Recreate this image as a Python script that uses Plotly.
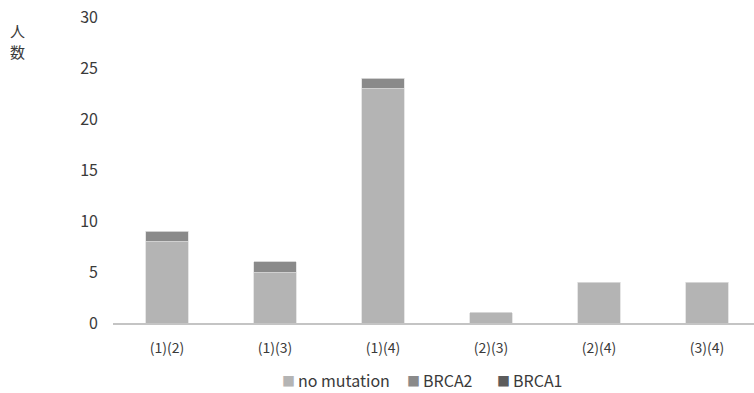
import plotly.graph_objects as go

# Pair categories and counts per mutation status
categories = ["(1)(2)", "(1)(3)", "(1)(4)", "(2)(3)", "(2)(4)", "(3)(4)"]
no_mutation = [8, 5, 23, 1, 4, 4]
brca2 = [1, 1, 1, 0, 0, 0]
brca1 = [0, 0, 0, 0, 0, 0]
y_ticks = [0, 5, 10, 15, 20, 25, 30]

FONT = "Noto Sans CJK JP, Noto Sans, sans-serif"
TEXT = "#3a3a3a"

series = [
    ("no mutation", no_mutation, "#b4b4b4"),
    ("BRCA2", brca2, "#8a8a8a"),
    ("BRCA1", brca1, "#5c5c5c"),
]

fig = go.Figure()
for name, vals, color in series:
    fig.add_trace(go.Bar(
        x=categories, y=vals, name=name,
        marker=dict(color=color, line=dict(color="#d6d6d6", width=0.6)),
    ))

# Compact legend drawn as square markers plus labels below the axis
legend_x = [288, 413, 503]
legend_y = -(380 - 323) / 306
annotations = []
for (name, _, color), lx in zip(series, legend_x):
    annotations.append(dict(
        text="■", xref="paper", yref="paper",
        x=(lx - 113) / 641, y=legend_y, xanchor="center", yanchor="middle",
        showarrow=False, font=dict(size=13, color=color, family=FONT),
    ))
    annotations.append(dict(
        text=name, xref="paper", yref="paper",
        x=(lx + 8 - 113) / 641, y=legend_y, xanchor="left", yanchor="middle",
        showarrow=False, font=dict(size=16, color=TEXT, family=FONT),
    ))

# Vertical axis title, one character per line
for ch, yy in [("人", 31), ("数", 51)]:
    annotations.append(dict(
        text=ch, xref="paper", yref="paper",
        x=(17 - 113) / 641, y=1 - (yy - 17) / 306,
        xanchor="center", yanchor="middle",
        showarrow=False, font=dict(size=15, color=TEXT, family=FONT),
    ))

fig.update_layout(
    width=754, height=393,
    barmode="stack",
    bargap=0.605,
    plot_bgcolor="white", paper_bgcolor="white",
    margin=dict(l=113, r=0, t=17, b=70),
    font=dict(family=FONT, color=TEXT),
    showlegend=False,
    xaxis=dict(
        range=[-0.5, 5.435], showgrid=False, showline=True,
        linecolor="#c4c4c4", linewidth=1.5, ticks="",
        tickfont=dict(size=14, color=TEXT),
        ticklabelstandoff=11,
    ),
    yaxis=dict(
        range=[0, 30], tickvals=y_ticks, showgrid=False,
        showline=False, zeroline=False, ticks="",
        tickfont=dict(size=16, color=TEXT),
        ticklabelstandoff=14,
    ),
    annotations=annotations,
)

fig.write_html("out.html")
